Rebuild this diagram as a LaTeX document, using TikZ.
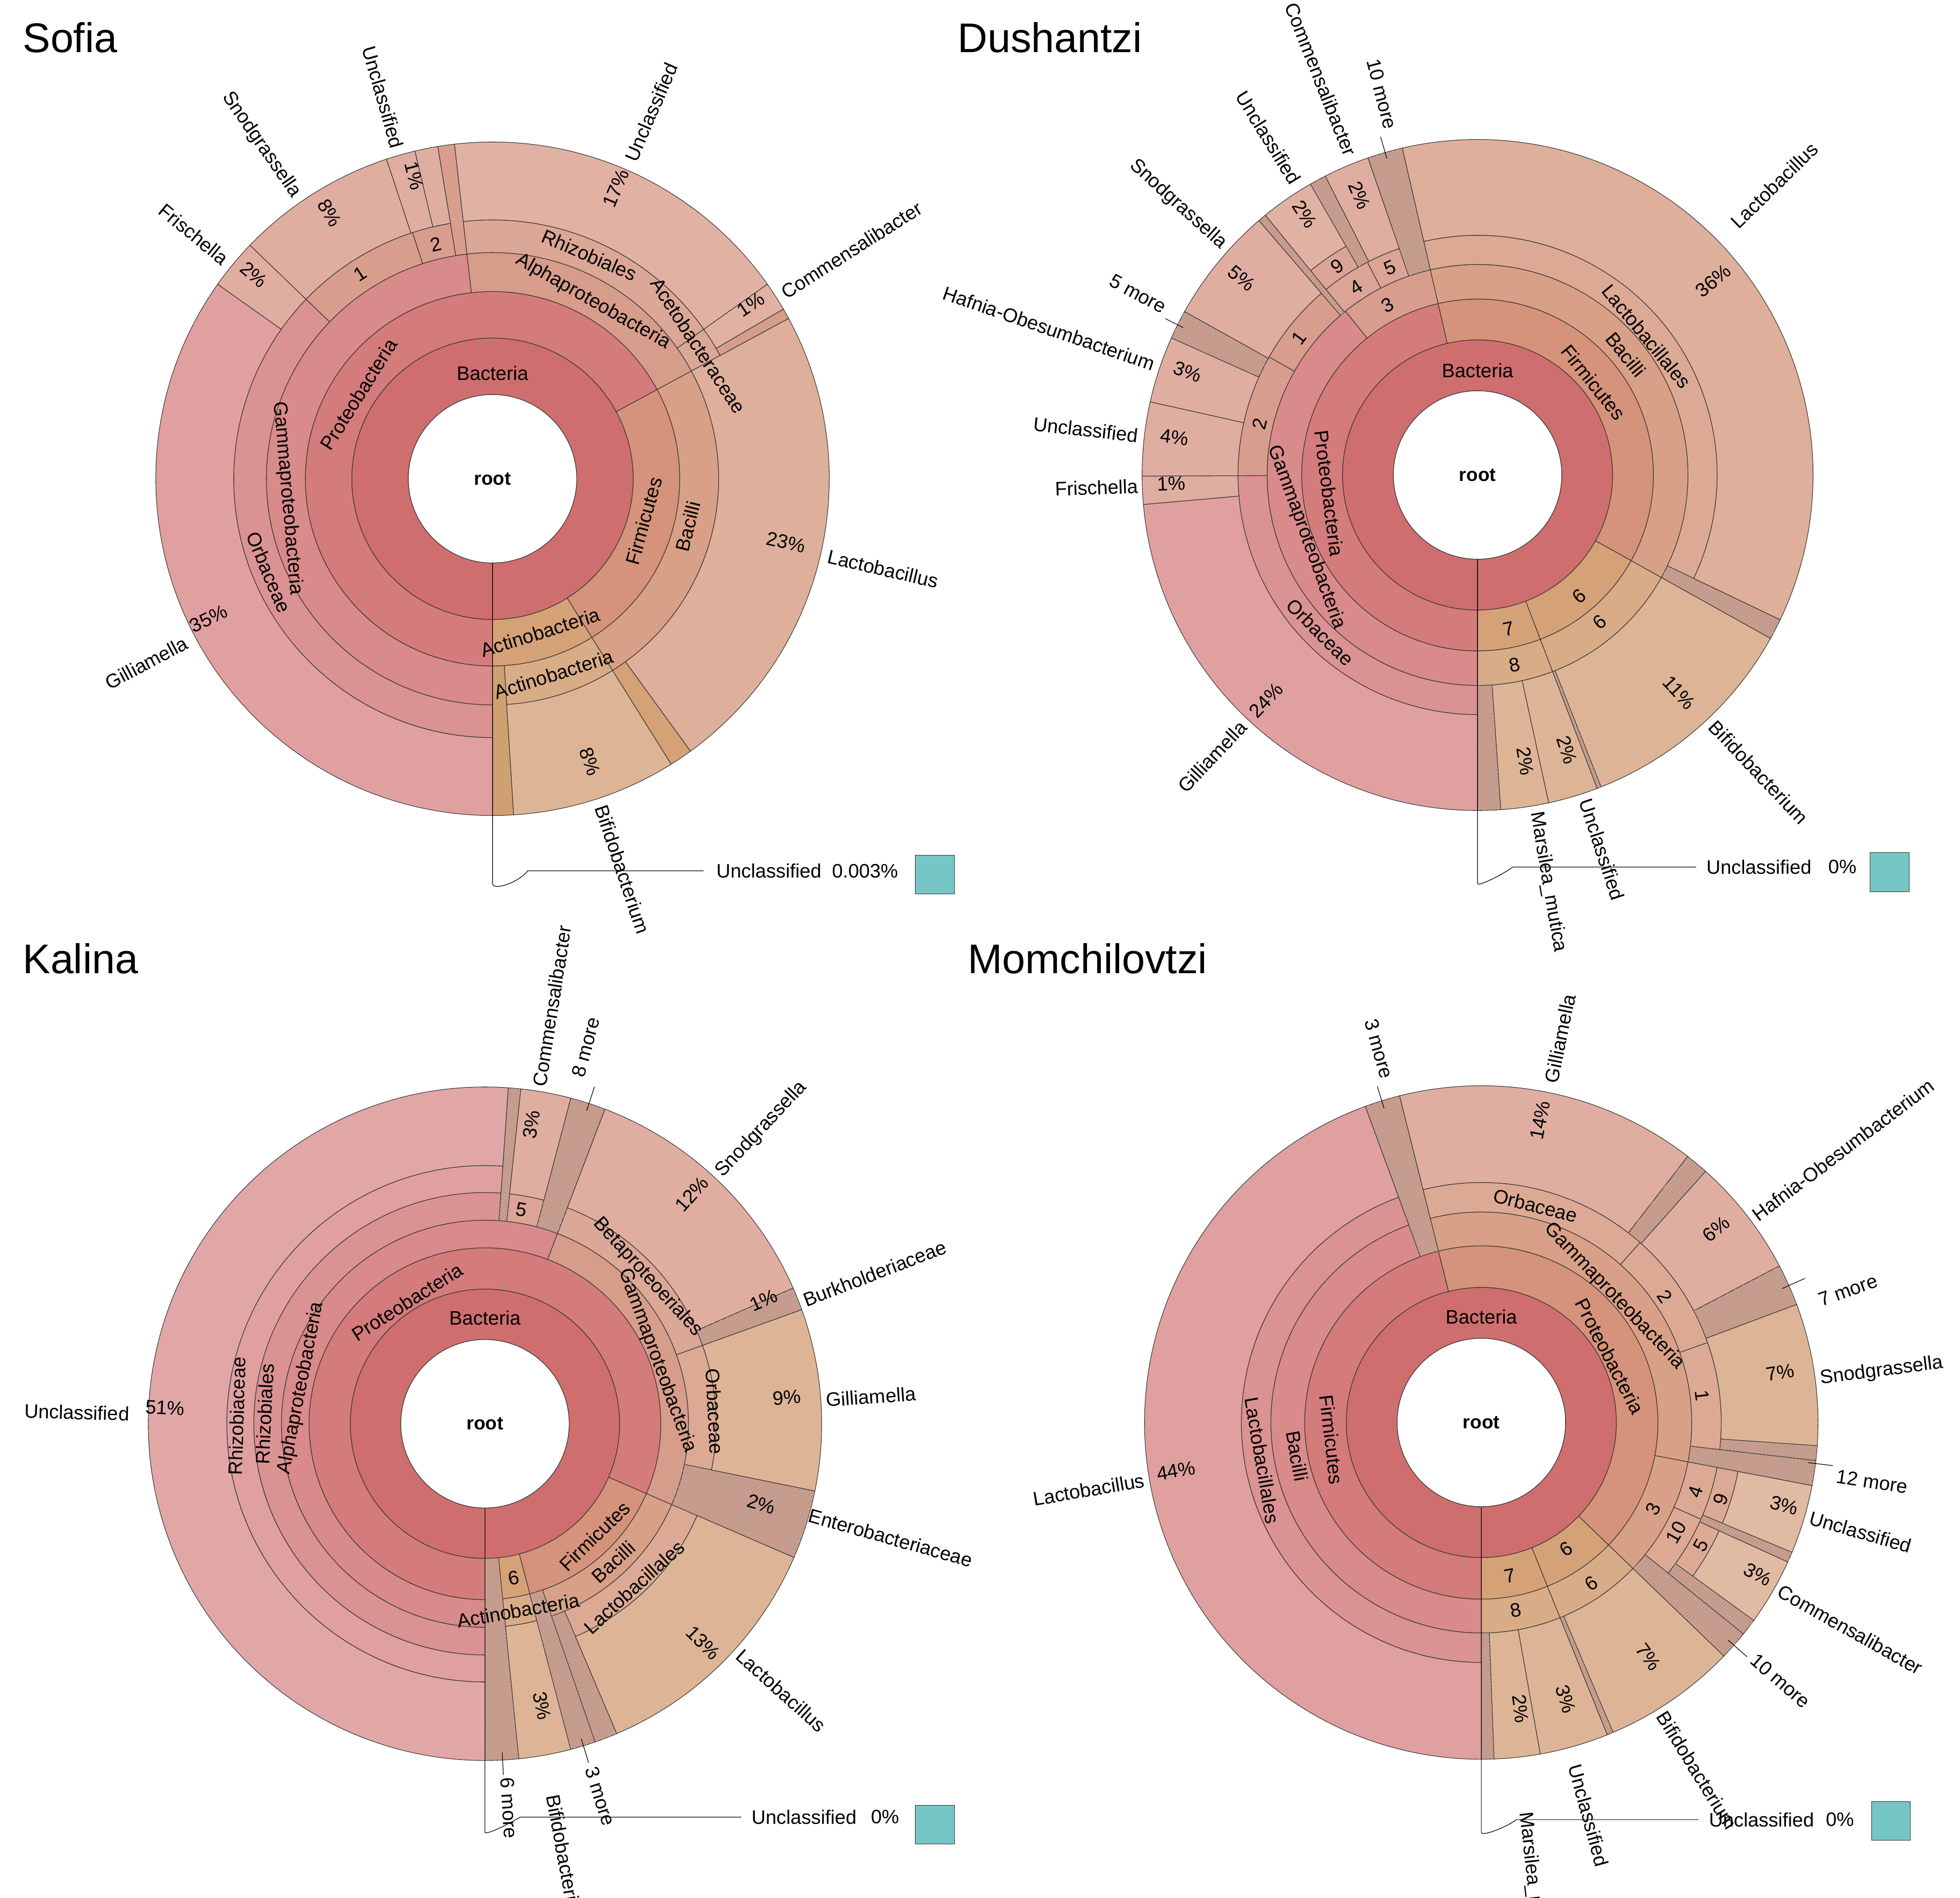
\documentclass[tikz,border=0pt]{standalone}
\usepackage{fontspec}
\setmainfont{Liberation Sans}
\usetikzlibrary{patterns}
\definecolor{bact}{HTML}{CF6E6E}
\definecolor{pA}{HTML}{D47B7B}
\definecolor{pB}{HTML}{D98A8A}
\definecolor{pC}{HTML}{DB9292}
\definecolor{pD}{HTML}{E0A0A0}
\definecolor{pE}{HTML}{E1A7A7}
\definecolor{tA}{HTML}{DFAEA1}
\definecolor{tB}{HTML}{DCA496}
\definecolor{tC}{HTML}{E1B2A3}
\definecolor{al}{HTML}{D69D8A}
\definecolor{rh}{HTML}{DBA797}
\definecolor{fm}{HTML}{D4937A}
\definecolor{bc}{HTML}{D8A086}
\definecolor{lo}{HTML}{DCAA94}
\definecolor{lb}{HTML}{DEAF9A}
\definecolor{aP}{HTML}{D5A177}
\definecolor{aC}{HTML}{D9AC88}
\definecolor{bf}{HTML}{DDB596}
\definecolor{dk}{HTML}{CFA070}
\definecolor{ht}{HTML}{D29D8A}
\definecolor{gb}{HTML}{D99D8E}
\definecolor{mg}{HTML}{E0BAA2}
\definecolor{teal}{HTML}{76C6C6}
\newcommand\sg[5]{\filldraw[fill=#5,draw=black!80,line width=0.45pt] ({-90-360*#3}:#1pt) arc[start angle={-90-360*#3},end angle={-90-360*#4},radius=#1pt] -- ({-90-360*#4}:#2pt) arc[start angle={-90-360*#4},end angle={-90-360*#3},radius=#2pt] -- cycle;}
\newcommand\hs[4]{\sg{#1}{#2}{#3}{#4}{ht}\fill[pattern=north east lines,pattern color=black!40] ({-90-360*#3}:#1pt) arc[start angle={-90-360*#3},end angle={-90-360*#4},radius=#1pt] -- ({-90-360*#4}:#2pt) arc[start angle={-90-360*#4},end angle={-90-360*#3},radius=#2pt] -- cycle;}
\newcommand\lb[4]{\node[lbl,rotate=#3] at ({#2}:{#1pt}) {#4};}
\newcommand\nr[3]{\node[lbl,anchor=west,rotate=#1] at ({#1}:{#2pt}) {#3};}
\newcommand\nl[3]{\node[lbl,anchor=east,rotate={#1+180}] at ({#1}:{#2pt}) {#3};}
\newcommand\ld[3]{\draw[line width=0.5pt] ({#1}:{#2pt}) -- ({#1}:{#3pt});}
\newcommand\hole{\filldraw[fill=white,draw=black!80,line width=0.45pt] (0,0) circle[radius=67pt]; \node[font=\fontsize{15}{17}\selectfont\bfseries] at (0,0) {root};}
\tikzset{lbl/.style={inner sep=0pt,font=\fontsize{15.5}{17}\selectfont},
 ttl/.style={anchor=west,inner sep=0pt,font=\fontsize{33}{37}\selectfont},
 sq/.style={fill=teal,draw=black!80,line width=0.5pt,minimum size=31pt,inner sep=0pt}}
\begin{document}
\begin{tikzpicture}[x=1pt,y=1pt]
\useasboundingbox (0,0) rectangle (1560,1510);
\node[ttl] (t1) at (18,1480) {Sofia};
\node[ttl] (t2) at (762,1480) {Dushantzi};
\node[ttl] (t3) at (18,747) {Kalina};
\node[ttl] (t4) at (770,747) {Momchilovtzi};
% ---------------- Sofia
\begin{scope}[shift={(392,1129)}]
\sg{67}{112}{0}{1}{bact}
\sg{112}{149}{0}{0.671}{pA}\sg{112}{149}{0.671}{0.911}{fm}\sg{112}{149}{0.911}{1}{aP}
\sg{149}{180}{0}{0.482}{pB}\sg{149}{180}{0.482}{0.671}{al}\sg{149}{180}{0.671}{0.911}{bc}\sg{149}{180}{0.911}{0.99}{aC}
\sg{149}{268}{0.99}{1}{dk}
\sg{180}{206}{0}{0.372}{pC}\sg{180}{206}{0.372}{0.45}{gb}\sg{180}{206}{0.45}{0.474}{gb}
\sg{180}{268}{0.474}{0.482}{gb}
\sg{180}{206}{0.482}{0.652}{rh}\sg{180}{206}{0.652}{0.671}{rh}
\sg{180}{268}{0.671}{0.90}{lb}\sg{180}{268}{0.90}{0.911}{aP}\sg{180}{268}{0.911}{0.99}{bf}
\sg{206}{268}{0}{0.348}{pD}\sg{206}{268}{0.348}{0.372}{tA}\sg{206}{268}{0.372}{0.449}{tA}
\sg{206}{268}{0.449}{0.463}{tA}\sg{206}{268}{0.463}{0.474}{tA}
\sg{206}{268}{0.482}{0.652}{tC}\sg{206}{268}{0.652}{0.666}{tC}\sg{206}{268}{0.666}{0.671}{al}
\hole
\lb{84}{90}{0}{Bacteria}
\lb{126}{147.8}{58}{Proteobacteria}
\lb{164}{185.4}{-85}{Gammaproteobacteria}
\lb{193}{202.7}{-67}{Orbaceae}
\lb{162}{60.4}{-29.6}{Alphaproteobacteria}
\lb{194}{66.6}{-23.4}{Rhizobiales}
\lb{195}{32.9}{-57}{Acetobacteraceae}
\lb{125}{-15.6}{74.4}{Firmicutes}
\lb{160}{-13.7}{76.3}{Bacilli}
\lb{128}{-72.7}{17.3}{Actinobacteria}
\lb{163}{-72.6}{17.4}{Actinobacteria}
\lb{194}{122.9}{32.9}{1}
\lb{192}{103.6}{13.6}{2}
\nl{208}{276}{Gilliamella}\lb{252}{206.2}{26.2}{35\%}
\nl{140.7}{274}{Frischella}\lb{250}{139.5}{-40.5}{2\%}
\nl{124.7}{274}{Snodgrassella}\lb{248}{121.5}{-58.5}{8\%}
\nl{106}{274}{Unclassified}\lb{249}{104.5}{-75.5}{1\%}
\nr{66.6}{276}{Unclassified}\lb{251}{67}{67}{17\%}
\nr{32.5}{274}{Commensalibacter}\lb{248}{34}{34}{1\%}
\nr{-13}{274}{Lactobacillus}\lb{239}{-12.2}{-12.2}{23\%}
\nr{-71.6}{274}{Bifidobacterium}\lb{238}{-71}{-71}{8\%}
\draw[line width=0.5pt] (0,-67) -- (0,-322) .. controls (0,-328) and (20,-322) .. (28,-312) -- (168,-312);
\node[lbl,anchor=west] (s1) at (178,-312) {Unclassified};
\node[lbl,anchor=west] (s2) at (270,-312) {0.003\%};
\node[sq] (s3) at (352,-315) {};
\end{scope}
% ---------------- Dushantzi
\begin{scope}[shift={(1176,1132)}]
\sg{67}{107.5}{0}{1}{bact}
\sg{107.5}{140}{0}{0.464}{pA}\sg{107.5}{140}{0.464}{0.831}{fm}\sg{107.5}{140}{0.831}{0.942}{aP}\sg{107.5}{140}{0.942}{1}{aP}
\sg{140}{167.5}{0}{0.392}{pB}\sg{140}{167.5}{0.392}{0.464}{gb}\sg{140}{167.5}{0.464}{0.831}{bc}\sg{140}{167.5}{0.831}{0.942}{aC}\sg{140}{167.5}{0.942}{1}{aC}
\sg{167.5}{190.7}{0}{0.2495}{pC}\sg{167.5}{190.7}{0.2495}{0.332}{gb}\sg{167.5}{190.7}{0.332}{0.387}{gb}
\hs{167.5}{267}{0.387}{0.391}
\sg{167.5}{190.7}{0.391}{0.424}{tB}\sg{167.5}{190.7}{0.424}{0.447}{tB}
\hs{167.5}{267}{0.447}{0.464}
\sg{167.5}{190.7}{0.464}{0.821}{lo}
\hs{167.5}{267}{0.821}{0.831}
\sg{167.5}{267}{0.831}{0.940}{bf}\hs{167.5}{267}{0.940}{0.942}
\sg{167.5}{267}{0.942}{0.966}{bf}\sg{167.5}{267}{0.966}{0.989}{bf}\hs{167.5}{267}{0.989}{1}
\sg{190.7}{267}{0}{0.236}{pD}\sg{190.7}{267}{0.236}{0.2495}{tA}\sg{190.7}{267}{0.2495}{0.285}{tA}
\sg{190.7}{267}{0.285}{0.317}{tA}\hs{190.7}{267}{0.317}{0.331}\sg{190.7}{267}{0.331}{0.387}{tA}
\sg{190.7}{210}{0.391}{0.417}{tB}\sg{210}{267}{0.391}{0.417}{tC}\hs{190.7}{267}{0.417}{0.425}
\sg{190.7}{267}{0.425}{0.447}{tA}\sg{190.7}{267}{0.464}{0.821}{lb}
\hole
\lb{83}{90}{0}{Bacteria}
\lb{119}{187.1}{-82.9}{Proteobacteria}
\lb{145}{200}{-70}{Gammaproteobacteria}
\lb{177}{225}{-45}{Orbaceae}
\lb{118}{38.7}{-51.3}{Firmicutes}
\lb{152}{39.1}{-50.9}{Bacilli}
\lb{174}{39.4}{-50.6}{Lactobacillales}
\lb{153}{118}{28}{3}\lb{179}{142.5}{52.5}{1}\lb{178}{166.8}{76.8}{2}
\lb{178}{122.9}{32.9}{4}\lb{179}{113}{23}{5}\lb{200}{123.9}{33.9}{9}
\lb{126}{-50}{40}{6}\lb{152}{-50.2}{39.8}{6}\lb{125}{-78.6}{11.4}{7}\lb{154}{-79}{11}{8}
\nl{226.7}{272}{Gilliamella}\lb{246}{226.8}{46.8}{24\%}
\nl{181.9}{270}{Frischella}\lb{244}{181.6}{1.6}{1\%}
\nl{173.4}{272}{Unclassified}\lb{243}{172.9}{-7.1}{4\%}
\nl{161.1}{272}{Hafnia-Obesumbacterium}\lb{245}{160.4}{-19.6}{3\%}
\nl{151.9}{282}{5 more}\ld{153.4}{262}{278}
\nl{137.9}{272}{Snodgrassella}\lb{244.5}{140.2}{-39.8}{5\%}
\nl{121.8}{274}{Unclassified}\lb{249}{123.5}{-56.5}{2\%}
\nl{111.6}{274}{Commensalibacter}\lb{241.7}{112.9}{-67.1}{2\%}
\nl{104.1}{284}{10 more}\ld{106}{262}{280}
\nr{44.3}{285}{Lactobacillus}\lb{243}{39.5}{39.5}{36\%}
\nr{-46.6}{272}{Bifidobacterium}\lb{236}{-47.2}{-47.2}{11\%}
\nr{-71.6}{272}{Unclassified}\lb{230}{-72}{-72}{2\%}
\nr{-80.2}{272}{Marsilea\_mutica}\lb{231}{-80.5}{-80.5}{2\%}
\draw[line width=0.5pt] (0,-67) -- (0,-325) .. controls (0,-328) and (20,-318) .. (28,-312) -- (174,-312);
\node[lbl,anchor=west] (d1) at (182,-312) {Unclassified};
\node[lbl,anchor=west] (d2) at (279,-312) {0\%};
\node[sq] (d3) at (328,-316) {};
\end{scope}
% ---------------- Kalina
\begin{scope}[shift={(386,377)}]
\sg{67}{107.2}{0}{1}{bact}
\sg{107.2}{140}{0}{0.815}{pA}\sg{107.2}{140}{0.815}{0.959}{fm}\sg{107.2}{140}{0.959}{0.984}{aP}
\sg{140}{162}{0}{0.558}{pB}\sg{140}{162}{0.558}{0.815}{al}\sg{140}{162}{0.815}{0.947}{bc}\sg{140}{162}{0.959}{0.984}{aC}
\sg{162}{184}{0}{0.511}{pC}\sg{162}{184}{0.517}{0.541}{tB}\sg{162}{184}{0.558}{0.695}{rh}\sg{162}{184}{0.695}{0.782}{lo}
\sg{162}{184}{0.815}{0.936}{lo}\sg{162}{268}{0.959}{0.984}{bf}
\hs{162}{268}{0.511}{0.517}\hs{162}{268}{0.541}{0.558}\hs{162}{268}{0.782}{0.815}
\hs{162}{268}{0.936}{0.947}\hs{140}{268}{0.947}{0.959}\hs{107.2}{268}{0.984}{1}
\sg{184}{205.5}{0}{0.511}{pD}\sg{205.5}{268}{0}{0.511}{pE}
\sg{184}{268}{0.517}{0.541}{tA}\sg{184}{268}{0.558}{0.684}{tA}\hs{184}{268}{0.684}{0.695}
\sg{184}{268}{0.695}{0.782}{bf}\sg{184}{268}{0.815}{0.936}{bf}
\hole
\lb{84}{90}{0}{Bacteria}
\lb{115}{122.6}{32.6}{Proteobacteria}
\lb{149}{169}{79}{Alphaproteobacteria}
\lb{175.5}{177.4}{87.4}{Rhizobiales}
\lb{197.5}{178.2}{88.2}{Rhizobiaceae}
\lb{146}{20.2}{-69.8}{Gammaproteobacteria}
\lb{174.4}{42}{-48}{Betaproteoeriales}
\lb{183.3}{3.1}{-86.9}{Orbaceae}
\lb{125}{-45.7}{44.3}{Firmicutes}
\lb{150}{-47.1}{42.9}{Bacilli}
\lb{176}{-47.6}{42.4}{Lactobacillales}
\lb{151}{-79.9}{10.1}{Actinobacteria}
\lb{125}{-79.5}{10.5}{6}
\lb{173}{80.3}{-9.7}{5}
\nl{178.4}{283}{Unclassified}\lb{255}{177.2}{-2.8}{51\%}
\nr{80.9}{272}{Commensalibacter}\lb{241}{81.2}{81.2}{3\%}
\nr{75}{286}{8 more}\ld{72}{262}{282}
\nr{46.8}{272}{Snodgrassella}\lb{246}{48}{48}{12\%}
\nr{21.1}{272}{Burkholderiaceae}\lb{242.5}{23.9}{23.9}{1\%}
\nr{4}{272}{Gilliamella}\lb{241}{5}{5}{9\%}
\nr{-15.7}{268}{Enterobacteriaceae}\lb{229}{-16.2}{-16.2}{2\%}
\nr{-42}{272}{Lactobacillus}\lb{246}{-45.1}{-45.1}{13\%}
\nr{-72.8}{286}{3 more}\ld{-73}{262}{282}
\nr{-79.6}{300}{Bifidobacterium}\lb{229}{-78.5}{-78.5}{3\%}
\nr{-86.4}{282}{6 more}\ld{-87}{262}{280}
\draw[line width=0.5pt] (0,-67) -- (0,-325) .. controls (0,-328) and (20,-318) .. (28,-313) -- (204,-313);
\node[lbl,anchor=west] (k1) at (212,-313) {Unclassified};
\node[lbl,anchor=west] (k2) at (307,-313) {0\%};
\node[sq] (k3) at (358,-319) {};
\end{scope}
% ---------------- Momchilovtzi
\begin{scope}[shift={(1179,378)}]
\sg{67}{107.5}{0}{1}{bact}
\sg{107.5}{140.6}{0}{0.461}{pA}\sg{107.5}{140.6}{0.461}{0.872}{fm}\sg{107.5}{140.6}{0.872}{0.939}{aP}\sg{107.5}{140.6}{0.939}{1}{aP}
\sg{140.6}{167.5}{0}{0.444}{pB}\sg{140.6}{167.5}{0.461}{0.780}{bc}\sg{140.6}{167.5}{0.780}{0.872}{bc}\sg{140.6}{167.5}{0.872}{0.939}{aC}\sg{140.6}{167.5}{0.939}{1}{aC}
\hs{140.6}{268}{0.444}{0.461}
\sg{167.5}{191}{0}{0.444}{pC}\sg{167.5}{191}{0.461}{0.615}{lo}\sg{167.5}{191}{0.615}{0.696}{lo}\sg{167.5}{191}{0.696}{0.768}{lo}
\hs{167.5}{268}{0.768}{0.780}
\sg{167.5}{191}{0.780}{0.816}{lo}\sg{167.5}{191}{0.816}{0.858}{lo}\hs{167.5}{268}{0.858}{0.872}
\sg{167.5}{268}{0.872}{0.936}{bf}\hs{167.5}{268}{0.936}{0.939}
\sg{167.5}{268}{0.939}{0.972}{bf}\sg{167.5}{268}{0.972}{0.994}{bf}\hs{167.5}{268}{0.994}{1}
\sg{191}{268}{0}{0.444}{pD}\sg{191}{268}{0.461}{0.605}{tA}\hs{191}{268}{0.605}{0.616}
\sg{191}{268}{0.616}{0.673}{tA}\hs{191}{268}{0.673}{0.693}\sg{191}{268}{0.693}{0.761}{bf}\hs{191}{268}{0.761}{0.768}
\sg{191}{208}{0.780}{0.813}{lo}\sg{208}{268}{0.780}{0.813}{mg}\hs{191}{268}{0.813}{0.818}
\sg{191}{208}{0.818}{0.850}{lo}\sg{208}{268}{0.818}{0.850}{mg}\hs{191}{268}{0.850}{0.858}
\hole
\lb{84}{90}{0}{Bacteria}
\lb{120}{186.6}{-83.4}{Firmicutes}
\lb{149}{190.3}{-79.7}{Bacilli}
\lb{177}{189.8}{-80.2}{Lactobacillales}
\lb{115}{27.3}{-62.7}{Proteobacteria}
\lb{146}{43.6}{-46.4}{Gammaproteobacteria}
\lb{178}{76}{-14}{Orbaceae}
\lb{177}{34.5}{-55.5}{2}\lb{177}{6.9}{-83.1}{1}
\lb{153}{-26.7}{63.3}{3}\lb{179}{-17.9}{72}{4}\lb{178}{-29.4}{60.6}{10}
\lb{200}{-17.8}{72}{9}\lb{200}{-29.2}{60.8}{5}
\lb{121}{-56.2}{33.8}{6}\lb{155}{-55.7}{34.3}{6}\lb{124}{-79.4}{10.6}{7}\lb{152}{-79.6}{10.4}{8}
\nl{189.7}{272}{Lactobacillus}\lb{246}{189}{9}{44\%}
\nl{105.3}{284}{3 more}\ld{107.2}{262}{280}
\nr{78.4}{276}{Gilliamella}\lb{245}{79}{79}{14\%}
\nr{37}{272}{Hafnia-Obesumbacterium}\lb{242}{39.5}{39.5}{6\%}
\nr{19.8}{286}{7 more}\ld{24}{262}{282}
\nr{7.3}{272}{Snodgrassella}\lb{241}{9.5}{9.5}{7\%}
\nr{-8.6}{286}{12 more}\ld{-7}{262}{282}
\nr{-16.1}{272}{Unclassified}\lb{250}{-15.3}{-15.3}{3\%}
\nr{-29.3}{272}{Commensalibacter}\lb{251}{-28.8}{-28.8}{3\%}
\nr{-40.8}{286}{10 more}\ld{-41.4}{262}{282}
\nr{-58.2}{272}{Bifidobacterium}\lb{229}{-54.5}{-54.5}{7\%}
\nr{-74.7}{282}{Unclassified}\lb{230}{-73}{-73}{3\%}
\nr{-83.6}{312}{Marsilea\_mutica}\lb{230}{-82.2}{-82.2}{2\%}
\draw[line width=0.5pt] (0,-67) -- (0,-326) .. controls (0,-330) and (20,-322) .. (28,-316) -- (173,-316);
\node[lbl,anchor=west] (m1) at (181,-316) {Unclassified};
\node[lbl,anchor=west] (m2) at (274,-316) {0\%};
\node[sq] (m3) at (326,-317) {};
\end{scope}
\end{tikzpicture}
\end{document}
